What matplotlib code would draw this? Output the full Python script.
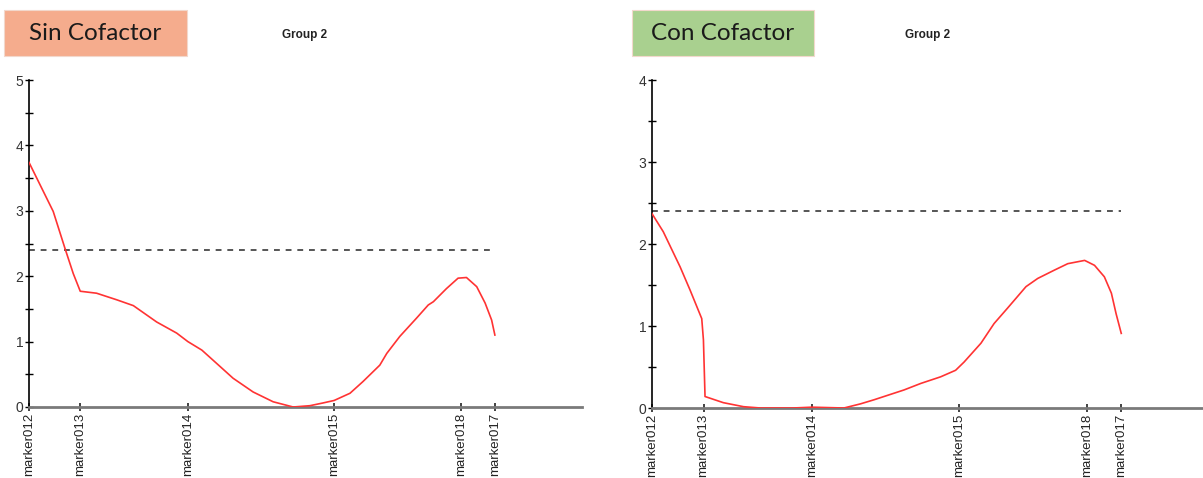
import numpy as np
import matplotlib
matplotlib.use('Agg')
from matplotlib import pyplot as plt
from matplotlib.patches import Rectangle
from matplotlib.ticker import MultipleLocator

# marker map (cM) shared by both scans
marker_names = ['marker012', 'marker013', 'marker014', 'marker015', 'marker018', 'marker017']
marker_pos = [0.0, 11.0, 34.1, 65.5, 92.7, 100.0]
threshold = 2.4

# LOD profile without cofactor
sin_pos = [0.0, 5.2, 7.7, 9.5, 11.0, 14.5, 18.8, 22.4, 27.4, 31.7, 34.1, 37.1, 41.0,
           43.8, 48.1, 52.4, 56.7, 60.3, 63.0, 65.5, 68.9, 71.7, 75.3, 76.8, 79.6,
           83.2, 85.7, 86.8, 89.6, 92.1, 93.9, 96.1, 97.9, 99.3, 100.0]
sin_lod = [3.74, 2.99, 2.43, 2.04, 1.77, 1.74, 1.64, 1.55, 1.30, 1.13, 1.00, 0.87, 0.62,
           0.44, 0.23, 0.08, 0.00, 0.02, 0.06, 0.10, 0.21, 0.39, 0.64, 0.82, 1.08,
           1.36, 1.56, 1.61, 1.81, 1.97, 1.98, 1.84, 1.59, 1.33, 1.10]

# LOD profile with cofactor
con_pos = [0.0, 2.4, 6.0, 8.1, 10.6, 10.96, 11.3, 15.2, 19.5, 23.1, 30.0, 34.1, 40.9,
           44.4, 47.3, 53.7, 57.3, 61.5, 64.7, 66.5, 70.1, 72.9, 75.8, 79.7, 82.2,
           85.7, 88.6, 92.2, 94.3, 96.4, 97.9, 98.9, 100.0]
con_lod = [2.37, 2.15, 1.72, 1.44, 1.09, 0.83, 0.14, 0.065, 0.016, 0.0, 0.0, 0.01, 0.0,
           0.05, 0.10, 0.22, 0.30, 0.38, 0.46, 0.56, 0.79, 1.03, 1.22, 1.48, 1.58,
           1.68, 1.76, 1.80, 1.74, 1.60, 1.40, 1.15, 0.91]

W, H = 1203, 478
fig = plt.figure(figsize=(W / 100, H / 100), dpi=100)


def scan_panel(left, bottom, width, height, pos, lod, ymax):
    ax = fig.add_axes([left / W, bottom / H, width / W, height / H])
    ax.plot(pos, lod, color='#FF3333', linewidth=1.2, zorder=3)
    ax.plot([marker_pos[0], marker_pos[-1]], [threshold, threshold],
            linestyle=(0, (3, 3)), color='#555555', linewidth=1.4, zorder=2)
    ax.set_xlim(0, 118.7)
    ax.set_ylim(0, ymax)
    for s in ['top', 'right']:
        ax.spines[s].set_visible(False)
    ax.spines['left'].set_color('black')
    ax.spines['left'].set_linewidth(1.2)
    ax.spines['bottom'].set_color('#7a7a7a')
    ax.spines['bottom'].set_linewidth(2.0)
    ax.yaxis.set_major_locator(MultipleLocator(1))
    ax.yaxis.set_minor_locator(MultipleLocator(0.5))
    ax.set_xticks(marker_pos)
    ax.set_xticklabels(marker_names, rotation=90, fontsize=9.5,
                       family='Liberation Sans', color='#222222')
    ax.tick_params(axis='x', direction='inout', length=6, width=1.2, pad=1, color='#222222')
    ax.tick_params(axis='y', which='major', direction='inout', length=6, width=1,
                   pad=1, labelsize=10, labelcolor='#333333')
    ax.tick_params(axis='y', which='minor', direction='inout', length=6, width=1)
    for lab in ax.get_yticklabels():
        lab.set_family('Liberation Sans')
    return ax


scan_panel(29, 71, 553, 327, sin_pos, sin_lod, 5)
scan_panel(652, 70, 557, 328, con_pos, con_lod, 4)

# headline boxes
for x0, w, label, fc in [(4, 183, 'Sin Cofactor', '#F5AC8D'),
                         (632, 182, 'Con Cofactor', '#A9D08F')]:
    fig.patches.append(Rectangle((x0 / W, (H - 56) / H), w / W, 46 / H,
                                 transform=fig.transFigure, facecolor=fc,
                                 edgecolor='#F2D8CC', linewidth=0.8))
    fig.text((x0 + w / 2) / W, (H - 33) / H, label, ha='center', va='center',
             fontsize=17.5, family='Lato', color='#1a1a1a')

for xc in [305, 928]:
    fig.text(xc / W, (H - 35) / H, 'Group 2', ha='center', va='center',
             fontsize=8.5, fontweight='bold', family='Liberation Sans', color='#222222')

plt.savefig('out.png', dpi=100)
plt.close()
